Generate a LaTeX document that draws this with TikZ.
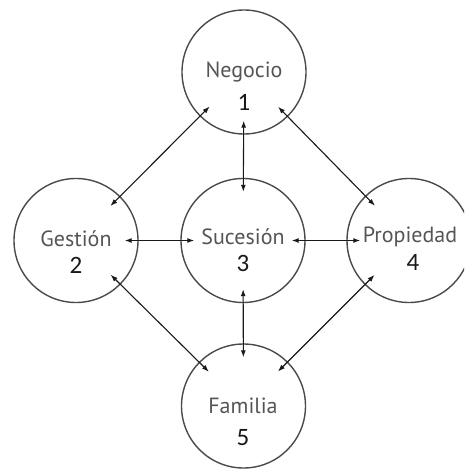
\documentclass[tikz,border=0pt]{standalone}
\usepackage{fontspec}
\setmainfont{PT Sans}
\newfontfamily\numfont{Carlito}
\usetikzlibrary{arrows.meta}
\definecolor{ringgray}{HTML}{4A4A4A}
\definecolor{labelgray}{HTML}{555555}
\tikzset{
  ring/.style={circle, draw=ringgray, line width=1.4pt, minimum size=124pt, inner sep=0pt},
  lbltext/.style={text=labelgray, font=\fontsize{22}{24}\selectfont, inner sep=0pt, anchor=center},
  digit/.style={text=black!90, font=\numfont\fontsize{25}{26}\selectfont, inner sep=0pt, anchor=center},
  link/.style={draw=black!90, line width=1.1pt, {Latex[length=7pt,width=5pt]}-{Latex[length=7pt,width=5pt]},
    shorten <=-14pt, shorten >=-14pt}
}
\begin{document}
\begin{tikzpicture}[x=1pt, y=-1pt]
  \clip (0,0) rectangle (464,470);
  \fill[white] (0,0) rectangle (464,470);

  % the five circles
  \node[ring] (neg) at (244,72)    {};
  \node[ring] (ges) at (76,240.5)  {};
  \node[ring] (suc) at (243,240.5) {};
  \node[ring] (pro) at (409,240.5) {};
  \node[ring] (fam) at (243.5,406) {};

  % labels
  \node[lbltext] (negT) at (244,72)  {Negocio};
  \node[digit]   (negN) at (244,102) {1};
  \node[lbltext] (gesT) at (76,239)  {Gestión};
  \node[digit]   (gesN) at (76,265)  {2};
  \node[lbltext] (sucT) at (243,237) {Sucesión};
  \node[digit]   (sucN) at (243,263) {3};
  \node[lbltext] (proT) at (410,237) {Propiedad};
  \node[digit]   (proN) at (413,262) {4};
  \node[lbltext] (famT) at (243,406) {Familia};
  \node[digit]   (famN) at (243,438) {5};

  % two-way links between the circles
  \draw[link] (neg) -- (ges);
  \draw[link] (neg) -- (suc);
  \draw[link] (neg) -- (pro);
  \draw[link] (ges) -- (suc);
  \draw[link] (suc) -- (pro);
  \draw[link] (ges) -- (fam);
  \draw[link] (suc) -- (fam);
  \draw[link] (pro) -- (fam);
\end{tikzpicture}
\end{document}
